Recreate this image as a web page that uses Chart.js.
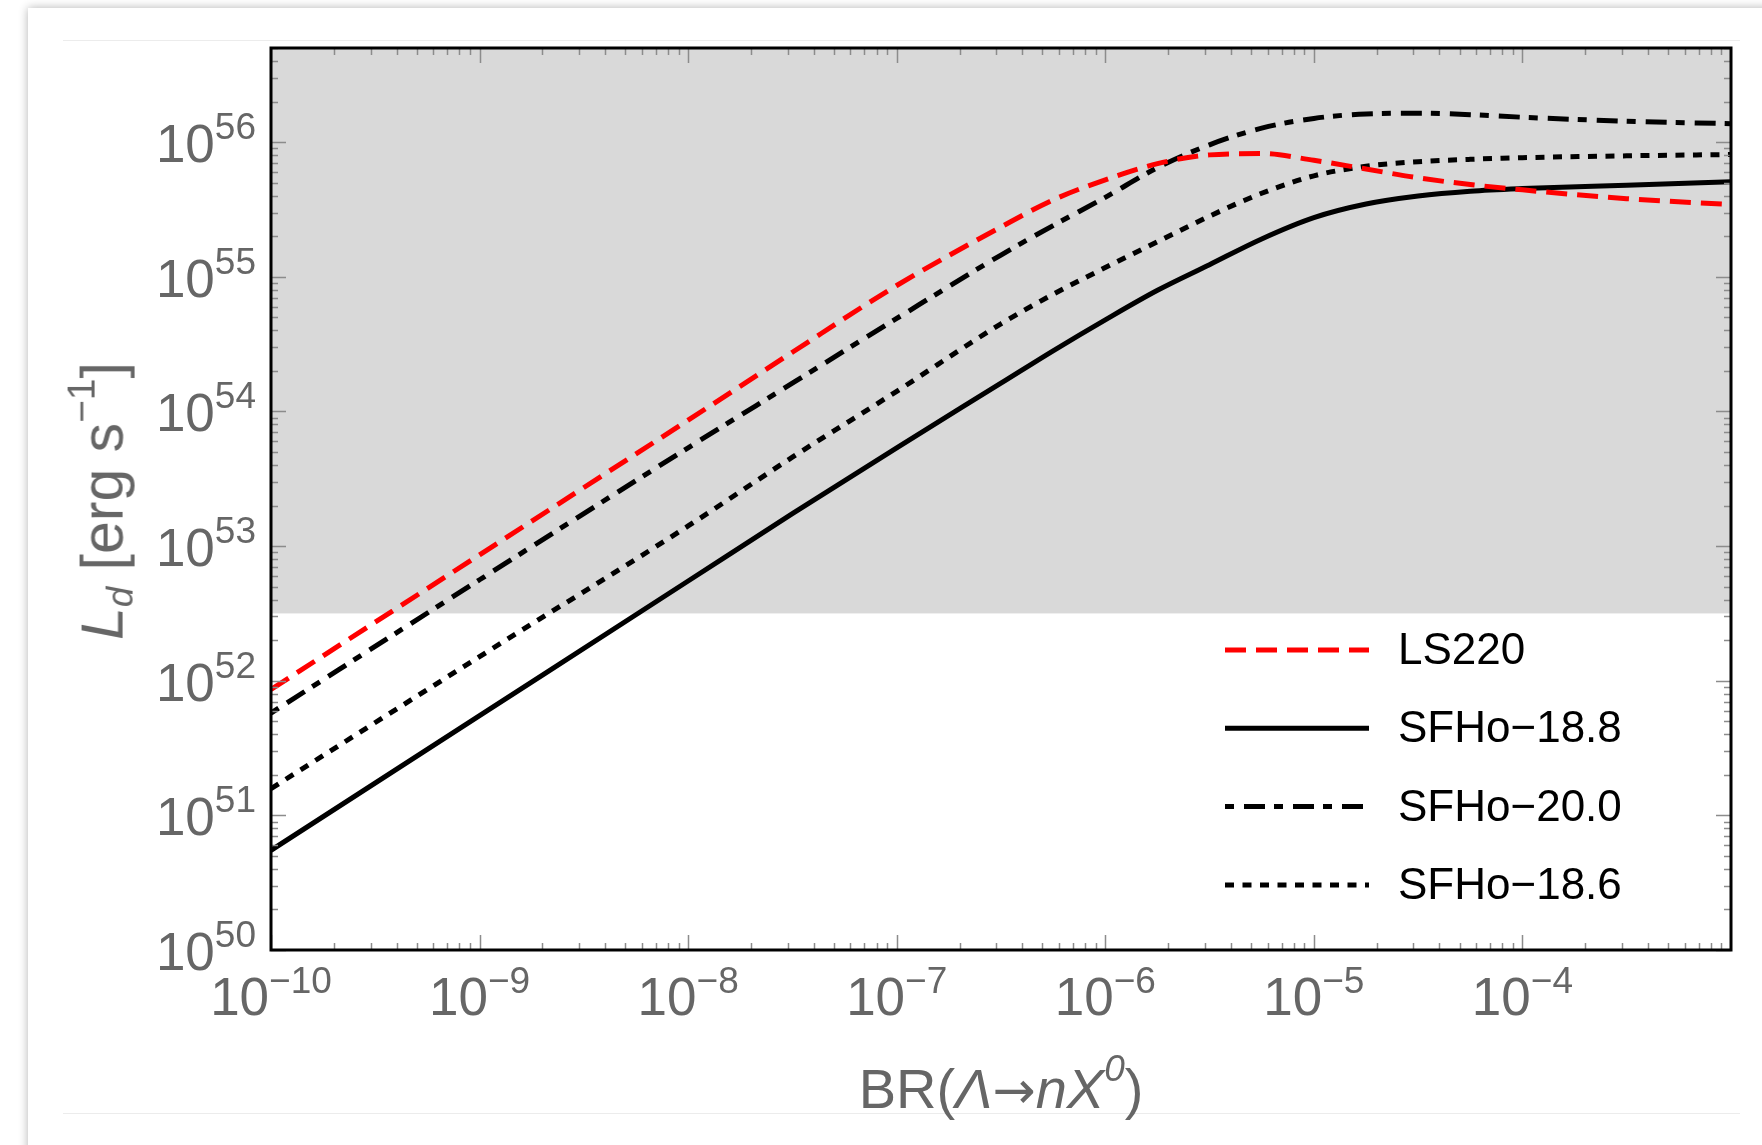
<!DOCTYPE html>
<html lang="en">
<head>
  <meta charset="UTF-8" />
  <title>Dark decay luminosity vs branching ratio</title>
  <script src="https://cdn.jsdelivr.net/npm/chart.js"></script>
  <style>
    body { margin: 0; background: #fff; font-family: "Liberation Sans", Arial, sans-serif; }
    #page { position: relative; width: 1762px; height: 1145px; overflow: hidden; }
    .card { position: absolute; left: 28px; top: 8px; width: 1760px; height: 1160px; background: #fff; box-shadow: 0 0 9px rgba(0,0,0,0.3); }
    .rule { position: absolute; left: 63px; top: 40px; width: 1677px; height: 1072px; border-top: 1px solid #ececec; border-bottom: 1px solid #ececec; }
    #chartBox { position: absolute; left: 0; top: 0; width: 1762px; height: 1145px; }
    .title { position: absolute; color: #666; white-space: nowrap; line-height: 1; }
    .title sub { font-size: 0.62em; vertical-align: -0.28em; }
    .title sup { font-size: 0.66em; vertical-align: 0.72em; }
    .arrow { font-family: "DejaVu Sans", sans-serif; font-size: 0.92em; }
    #ytitle { left: 101px; top: 501px; font-size: 59px; transform: translate(-50%, -50%) rotate(-90deg); }
    #xtitle { left: 1001px; top: 1051px; font-size: 56px; transform: translateX(-50%); }
  </style>
</head>
<body>
  <div id="page">
    <div class="card"></div>
    <div class="rule"></div>
    <div id="chartBox"><canvas id="lumChart"></canvas></div>
    <div class="title" id="ytitle"><i>L</i><sub><i>d</i></sub> [erg s<sup>−1</sup>]</div>
    <div class="title" id="xtitle">BR(<i>Λ</i><span class="arrow">→</span><i>nX</i><sup><i>0</i></sup>)</div>
  </div>

  <script>
    // branching ratio grid (x) and luminosities
    const brValues = [1e-10, 1e-9, 1e-8, 3.16e-8, 1e-7, 3.16e-7, 5.62e-7, 1e-6, 1.78e-6,
                      3.16e-6, 5.62e-6, 1e-5, 1.78e-5, 3.16e-5, 5.62e-5, 1e-4, 3.16e-4, 1e-3];
    const ls220   = [8.61e51, 8.61e52, 8.61e53, 2.75e54, 8.61e54, 2.34e55, 3.72e55, 5.25e55, 6.92e55,
                     8.04e55, 8.22e55, 7.33e55, 6.31e55, 5.43e55, 4.84e55, 4.42e55, 3.80e55, 3.44e55];
    const sfho188 = [5.50e50, 5.50e51, 5.50e52, 1.74e53, 5.37e53, 1.62e54, 2.82e54, 4.79e54, 7.94e54,
                     1.23e55, 1.91e55, 2.75e55, 3.47e55, 3.98e55, 4.32e55, 4.52e55, 4.79e55, 5.07e55];
    const sfho200 = [5.75e51, 5.62e52, 5.37e53, 1.62e54, 4.90e54, 1.45e55, 2.40e55, 3.89e55, 6.46e55,
                     9.55e55, 1.27e56, 1.50e56, 1.62e56, 1.64e56, 1.60e56, 1.53e56, 1.43e56, 1.37e56];
    const sfho186 = [1.58e51, 1.51e52, 1.41e53, 4.57e53, 1.41e54, 4.47e54, 7.41e54, 1.17e55, 1.82e55,
                     2.82e55, 4.17e55, 5.62e55, 6.61e55, 7.16e55, 7.45e55, 7.66e55, 7.91e55, 8.09e55];

    const seriesNames = ['LS220', 'SFHo\u221218.8', 'SFHo\u221220.0', 'SFHo\u221218.6'];
    const xExponents = [-10, -9, -8, -7, -6, -5, -4];
    const yExponents = [50, 51, 52, 53, 54, 55, 56];
    const shadeLevel = 3.16e52;   // grey band: everything above this luminosity

    const toPoints = ys => brValues.map((x, i) => ({ x: x, y: ys[i] }));
    const fmtExp = e => String(e).replace('-', '\u2212');

    const decorations = {
      id: 'decorations',
      beforeDatasetsDraw(chart) {
        const { ctx, chartArea: a, scales: { y } } = chart;
        const ys = y.getPixelForValue(shadeLevel);
        ctx.save();
        ctx.fillStyle = '#d9d9d9';
        ctx.fillRect(a.left, a.top, a.right - a.left, ys - a.top);
        ctx.restore();
      },
      afterDatasetsDraw(chart) {
        const { ctx, chartArea: a, scales: { x, y } } = chart;
        ctx.save();

        // inward ticks on all four sides
        ctx.strokeStyle = '#8c8c8c';
        ctx.lineWidth = 1.5;
        ctx.beginPath();
        for (let d = -10; d < -3; d++) {
          for (let m = 1; m <= 9; m++) {
            const px = Math.round(x.getPixelForValue(m * Math.pow(10, d))) + 0.5;
            const len = m === 1 ? 15 : 7;
            ctx.moveTo(px, a.bottom); ctx.lineTo(px, a.bottom - len);
            ctx.moveTo(px, a.top); ctx.lineTo(px, a.top + len);
          }
        }
        for (let d = 50; d <= 56; d++) {
          for (let m = 1; m <= 9; m++) {
            const v = m * Math.pow(10, d);
            if (v > y.max) break;
            const py = Math.round(y.getPixelForValue(v)) + 0.5;
            const len = m === 1 ? 15 : 7;
            ctx.moveTo(a.left, py); ctx.lineTo(a.left + len, py);
            ctx.moveTo(a.right, py); ctx.lineTo(a.right - len, py);
          }
        }
        ctx.stroke();

        // frame
        ctx.strokeStyle = '#000';
        ctx.lineWidth = 3;
        ctx.strokeRect(a.left, a.top, a.right - a.left, a.bottom - a.top);

        // tick labels 10^n
        const big = '53px "Liberation Sans", Arial, sans-serif';
        const small = '37px "Liberation Sans", Arial, sans-serif';
        ctx.fillStyle = '#666';
        ctx.textBaseline = 'alphabetic';
        ctx.textAlign = 'left';
        xExponents.forEach(e => {
          const px = x.getPixelForValue(Math.pow(10, e));
          ctx.font = big; const w1 = ctx.measureText('10').width;
          ctx.font = small; const w2 = ctx.measureText(fmtExp(e)).width;
          const left = px - (w1 + w2) / 2;
          ctx.font = big; ctx.fillText('10', left, a.bottom + 65);
          ctx.font = small; ctx.fillText(fmtExp(e), left + w1, a.bottom + 43);
        });
        yExponents.forEach(e => {
          const py = y.getPixelForValue(Math.pow(10, e));
          const right = a.left - 15;
          ctx.font = small; const w2 = ctx.measureText(String(e)).width;
          ctx.fillText(String(e), right - w2, py - 3);
          ctx.font = big; const w1 = ctx.measureText('10').width;
          ctx.fillText('10', right - w2 - w1, py + 20);
        });

        // legend, drawn from the dataset styles
        ctx.font = '44px "Liberation Sans", Arial, sans-serif';
        ctx.textBaseline = 'middle';
        chart.data.datasets.forEach((ds, i) => {
          const ly = a.bottom - 300 + i * 78.3;
          ctx.strokeStyle = ds.borderColor;
          ctx.lineWidth = ds.borderWidth;
          ctx.setLineDash(ds.borderDash || []);
          ctx.beginPath();
          ctx.moveTo(a.right - 506, ly);
          ctx.lineTo(a.right - 362, ly);
          ctx.stroke();
          ctx.setLineDash([]);
          ctx.fillStyle = '#000';
          ctx.fillText(ds.label, a.right - 333, ly + 2);
        });
        ctx.restore();
      }
    };

    const common = { pointRadius: 0, borderWidth: 5, fill: false, cubicInterpolationMode: 'monotone', borderCapStyle: 'butt' };

    new Chart(document.getElementById('lumChart'), {
      type: 'line',
      data: {
        datasets: [
          { ...common, label: seriesNames[0], data: toPoints(ls220),   borderColor: '#ff0000', borderDash: [21, 10] },
          { ...common, label: seriesNames[1], data: toPoints(sfho188), borderColor: '#000000' },
          { ...common, label: seriesNames[2], data: toPoints(sfho200), borderColor: '#000000', borderDash: [9, 10, 21, 9] },
          { ...common, label: seriesNames[3], data: toPoints(sfho186), borderColor: '#000000', borderDash: [9, 8.5] }
        ]
      },
      options: {
        responsive: true,
        maintainAspectRatio: false,
        animation: false,
        layout: { padding: { left: 271, right: 31, top: 48, bottom: 195 } },
        plugins: { legend: { display: false }, tooltip: { enabled: false } },
        scales: {
          x: { type: 'logarithmic', min: 1e-10, max: 1e-3, display: false },
          y: { type: 'logarithmic', min: 1e50, max: 5e56, display: false }
        }
      },
      plugins: [decorations]
    });
  </script>
</body>
</html>
